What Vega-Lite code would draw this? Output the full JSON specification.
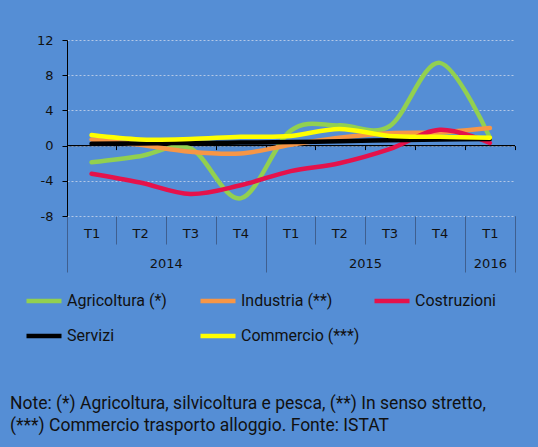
{
  "$schema": "https://vega.github.io/schema/vega-lite/v6.json",
  "width": 448,
  "height": 176,
  "autosize": {"type": "none"},
  "padding": {"left": 67, "top": 40, "right": 23, "bottom": 231},
  "background": "#558ed5",
  "config": {
    "view": {"stroke": null},
    "font": "DejaVu Sans",
    "axisY": {
      "domainColor": "#000000",
      "domainWidth": 1,
      "tickColor": "#000000",
      "tickSize": 5,
      "labelFont": "DejaVu Sans",
      "labelFontSize": 13,
      "labelColor": "#111111",
      "labelPadding": 9,
      "labelExpr": "'' + datum.value",
      "grid": true,
      "gridColor": "#b4c8e6",
      "gridDash": [2, 2],
      "gridWidth": 1
    },
    "axisX": {"grid": false}
  },
  "data": {
    "values": [
      {"settore": "Agricoltura (*)", "trimestre": "2014-02-15T00:00:00", "valore": -1.9},
      {"settore": "Agricoltura (*)", "trimestre": "2014-05-15T00:00:00", "valore": -1.2},
      {"settore": "Agricoltura (*)", "trimestre": "2014-08-15T00:00:00", "valore": -0.3},
      {"settore": "Agricoltura (*)", "trimestre": "2014-11-15T00:00:00", "valore": -6.0},
      {"settore": "Agricoltura (*)", "trimestre": "2015-02-15T00:00:00", "valore": 1.7},
      {"settore": "Agricoltura (*)", "trimestre": "2015-05-15T00:00:00", "valore": 2.3},
      {"settore": "Agricoltura (*)", "trimestre": "2015-08-15T00:00:00", "valore": 2.2},
      {"settore": "Agricoltura (*)", "trimestre": "2015-11-15T00:00:00", "valore": 9.4},
      {"settore": "Agricoltura (*)", "trimestre": "2016-02-15T00:00:00", "valore": 0.9},
      {"settore": "Industria (**)", "trimestre": "2014-02-15T00:00:00", "valore": 0.7},
      {"settore": "Industria (**)", "trimestre": "2014-05-15T00:00:00", "valore": 0.1},
      {"settore": "Industria (**)", "trimestre": "2014-08-15T00:00:00", "valore": -0.7},
      {"settore": "Industria (**)", "trimestre": "2014-11-15T00:00:00", "valore": -0.9},
      {"settore": "Industria (**)", "trimestre": "2015-02-15T00:00:00", "valore": 0.1},
      {"settore": "Industria (**)", "trimestre": "2015-05-15T00:00:00", "valore": 0.9},
      {"settore": "Industria (**)", "trimestre": "2015-08-15T00:00:00", "valore": 1.4},
      {"settore": "Industria (**)", "trimestre": "2015-11-15T00:00:00", "valore": 1.5},
      {"settore": "Industria (**)", "trimestre": "2016-02-15T00:00:00", "valore": 2.0},
      {"settore": "Costruzioni", "trimestre": "2014-02-15T00:00:00", "valore": -3.2},
      {"settore": "Costruzioni", "trimestre": "2014-05-15T00:00:00", "valore": -4.2},
      {"settore": "Costruzioni", "trimestre": "2014-08-15T00:00:00", "valore": -5.5},
      {"settore": "Costruzioni", "trimestre": "2014-11-15T00:00:00", "valore": -4.5},
      {"settore": "Costruzioni", "trimestre": "2015-02-15T00:00:00", "valore": -2.9},
      {"settore": "Costruzioni", "trimestre": "2015-05-15T00:00:00", "valore": -2.0},
      {"settore": "Costruzioni", "trimestre": "2015-08-15T00:00:00", "valore": -0.4},
      {"settore": "Costruzioni", "trimestre": "2015-11-15T00:00:00", "valore": 1.8},
      {"settore": "Costruzioni", "trimestre": "2016-02-15T00:00:00", "valore": 0.3},
      {"settore": "Servizi", "trimestre": "2014-02-15T00:00:00", "valore": 0.2},
      {"settore": "Servizi", "trimestre": "2014-05-15T00:00:00", "valore": 0.25},
      {"settore": "Servizi", "trimestre": "2014-08-15T00:00:00", "valore": 0.3},
      {"settore": "Servizi", "trimestre": "2014-11-15T00:00:00", "valore": 0.35},
      {"settore": "Servizi", "trimestre": "2015-02-15T00:00:00", "valore": 0.4},
      {"settore": "Servizi", "trimestre": "2015-05-15T00:00:00", "valore": 0.5},
      {"settore": "Servizi", "trimestre": "2015-08-15T00:00:00", "valore": 0.6},
      {"settore": "Servizi", "trimestre": "2015-11-15T00:00:00", "valore": 0.7},
      {"settore": "Servizi", "trimestre": "2016-02-15T00:00:00", "valore": 0.75},
      {"settore": "Commercio (***)", "trimestre": "2014-02-15T00:00:00", "valore": 1.2},
      {"settore": "Commercio (***)", "trimestre": "2014-05-15T00:00:00", "valore": 0.7},
      {"settore": "Commercio (***)", "trimestre": "2014-08-15T00:00:00", "valore": 0.75},
      {"settore": "Commercio (***)", "trimestre": "2014-11-15T00:00:00", "valore": 1.0},
      {"settore": "Commercio (***)", "trimestre": "2015-02-15T00:00:00", "valore": 1.1},
      {"settore": "Commercio (***)", "trimestre": "2015-05-15T00:00:00", "valore": 1.9},
      {"settore": "Commercio (***)", "trimestre": "2015-08-15T00:00:00", "valore": 1.1},
      {"settore": "Commercio (***)", "trimestre": "2015-11-15T00:00:00", "valore": 1.0},
      {"settore": "Commercio (***)", "trimestre": "2016-02-15T00:00:00", "valore": 0.9}
    ]
  },
  "title": {
    "text": ["Note: (*) Agricoltura, silvicoltura e pesca, (**) In senso stretto,", "(***) Commercio trasporto alloggio. Fonte: ISTAT"],
    "orient": "bottom",
    "anchor": "start",
    "frame": "group",
    "dx": -57,
    "offset": 50,
    "font": "Roboto",
    "fontSize": 17.5,
    "fontWeight": "normal",
    "color": "#111111",
    "lineHeight": 21.5
  },
  "layer": [
    {
      "data": {"values": [{}]},
      "mark": {"type": "rule", "color": "#000000", "strokeWidth": 1.2},
      "encoding": {
        "x": {
          "datum": {"year": 2014, "month": 1, "date": 1},
          "type": "temporal",
          "axis": {
            "orient": "bottom",
            "offset": -70.4,
            "values": [
              {"year": 2014, "month": 1, "date": 1}, {"year": 2014, "month": 4, "date": 1},
              {"year": 2014, "month": 7, "date": 1}, {"year": 2014, "month": 10, "date": 1},
              {"year": 2015, "month": 1, "date": 1}, {"year": 2015, "month": 4, "date": 1},
              {"year": 2015, "month": 7, "date": 1}, {"year": 2015, "month": 10, "date": 1},
              {"year": 2016, "month": 1, "date": 1}, {"year": 2016, "month": 4, "date": 1}
            ],
            "domain": false,
            "labels": false,
            "tickColor": "#000000",
            "tickSize": 4,
            "tickWidth": 1,
            "title": null
          }
        },
        "x2": {"datum": {"year": 2016, "month": 4, "date": 1}},
        "y": {"datum": 0, "type": "quantitative", "axis": {"values": [-8, -4, 0, 4, 8, 12], "title": null}}
      }
    },
    {
      "mark": {"type": "line", "interpolate": "cardinal", "strokeWidth": 4.5, "strokeCap": "round", "strokeJoin": "round"},
      "encoding": {
        "x": {
          "field": "trimestre",
          "type": "temporal",
          "scale": {"domain": [{"year": 2014, "month": 1, "date": 1}, {"year": 2016, "month": 4, "date": 1}]},
          "axis": {
            "orient": "bottom",
            "values": [
              {"year": 2014, "month": 1, "date": 1}, {"year": 2014, "month": 2, "date": 15},
              {"year": 2014, "month": 4, "date": 1}, {"year": 2014, "month": 5, "date": 15},
              {"year": 2014, "month": 7, "date": 1}, {"year": 2014, "month": 8, "date": 15},
              {"year": 2014, "month": 10, "date": 1}, {"year": 2014, "month": 11, "date": 15},
              {"year": 2015, "month": 1, "date": 1}, {"year": 2015, "month": 2, "date": 15},
              {"year": 2015, "month": 4, "date": 1}, {"year": 2015, "month": 5, "date": 15},
              {"year": 2015, "month": 7, "date": 1}, {"year": 2015, "month": 8, "date": 15},
              {"year": 2015, "month": 10, "date": 1}, {"year": 2015, "month": 11, "date": 15},
              {"year": 2016, "month": 1, "date": 1}, {"year": 2016, "month": 2, "date": 15},
              {"year": 2016, "month": 4, "date": 1}
            ],
            "domain": false,
            "tickSize": 28,
            "tickColor": "#3f5f8f",
            "tickOpacity": {"condition": {"test": "date(datum.value) === 1", "value": 1}, "value": 0},
            "labelExpr": "date(datum.value) === 1 ? '' : 'T' + quarter(datum.value)",
            "labelBaseline": "middle",
            "labelPadding": -11,
            "labelFont": "DejaVu Sans",
            "labelFontSize": 13,
            "labelColor": "#111111",
            "labelOverlap": false,
            "labelFlush": false,
            "labelBound": false,
            "title": null
          }
        },
        "y": {
          "field": "valore",
          "type": "quantitative",
          "scale": {"domain": [-8, 12]},
          "axis": {"values": [-8, -4, 0, 4, 8, 12], "title": null}
        },
        "color": {
          "field": "settore",
          "type": "nominal",
          "scale": {
            "domain": ["Agricoltura (*)", "Industria (**)", "Costruzioni", "Servizi", "Commercio (***)"],
            "range": ["#92d050", "#f79646", "#e5124b", "#000000", "#ffff00"]
          },
          "legend": {
            "orient": "none",
            "legendX": -43,
            "legendY": 241,
            "direction": "horizontal",
            "columns": 3,
            "title": null,
            "symbolType": "stroke",
            "symbolSize": 1225,
            "symbolStrokeWidth": 4.5,
            "labelFont": "Roboto",
            "labelFontSize": 16,
            "labelColor": "#111111",
            "labelOffset": 3,
            "labelLimit": 300,
            "columnPadding": 5,
            "rowPadding": 6,
            "gridAlign": "all"
          }
        }
      }
    },
    {
      "data": {"values": [{}]},
      "mark": {"type": "rule", "opacity": 0},
      "encoding": {
        "x": {
          "datum": {"year": 2014, "month": 1, "date": 1},
          "type": "temporal",
          "axis": {
            "orient": "bottom",
            "values": [
              {"year": 2014, "month": 1, "date": 1}, {"year": 2014, "month": 7, "date": 1},
              {"year": 2015, "month": 1, "date": 1}, {"year": 2015, "month": 7, "date": 1},
              {"year": 2016, "month": 1, "date": 1}, {"year": 2016, "month": 2, "date": 15},
              {"year": 2016, "month": 4, "date": 1}
            ],
            "domain": false,
            "tickSize": 56,
            "tickColor": "#3f5f8f",
            "tickOpacity": {"condition": {"test": "month(datum.value) === 0 || month(datum.value) === 3", "value": 1}, "value": 0},
            "labelExpr": "(month(datum.value) === 6 || month(datum.value) === 1) ? timeFormat(datum.value, '%Y') : ''",
            "labelBaseline": "middle",
            "labelPadding": -9,
            "labelFont": "DejaVu Sans",
            "labelFontSize": 13,
            "labelColor": "#111111",
            "labelOverlap": false,
            "labelFlush": false,
            "labelBound": false,
            "title": null
          }
        }
      }
    }
  ],
  "resolve": {"axis": {"x": "independent"}}
}
